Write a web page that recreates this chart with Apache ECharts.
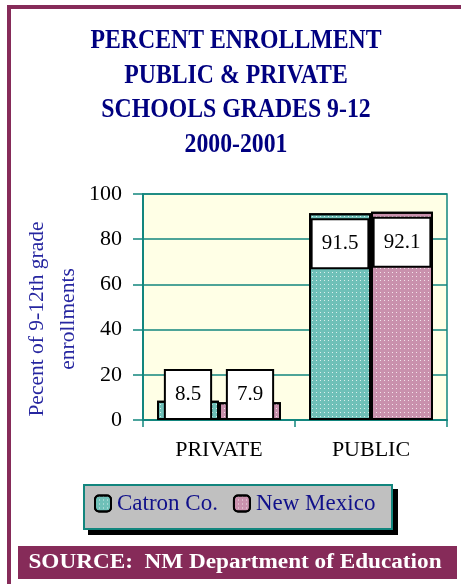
<!DOCTYPE html>
<html>
<head>
<meta charset="utf-8">
<script src="https://cdn.jsdelivr.net/npm/echarts@6/dist/echarts.min.js"></script>
<style>
html,body{margin:0;padding:0;background:#fff;}
#c{width:461px;height:584px;}
</style>
</head>
<body>
<div id="c"></div>
<script>
const categories = ['PRIVATE', 'PUBLIC'];
const catronValues = [8.5, 91.5];
const newMexicoValues = [7.9, 92.1];
const seriesNames = ['Catron Co.', 'New Mexico'];
const yTicks = { min: 0, max: 100, interval: 20 };
const titleLines = ['PERCENT ENROLLMENT', 'PUBLIC & PRIVATE', 'SCHOOLS GRADES 9-12', '2000-2001'];
const yAxisTitle = ['Pecent of 9-12th grade', 'enrollments'];
const sourceText = 'SOURCE:  NM Department of Education';

const SERIF = '"Liberation Serif", "Times New Roman", serif';
const TEAL = '#12867e';
const purple = '#862b59';

const chart = echarts.init(document.getElementById('c'), null, { renderer: 'canvas' });

const decal = {
  symbol: 'rect',
  symbolSize: 1,
  color: 'rgba(255,255,255,0.75)',
  dashArrayX: [1, 3],
  dashArrayY: [1, 3],
  rotation: 0
};

function labelFor(values) {
  return values.map(v => ({
    value: v,
    label: {
      position: v < 50 ? 'insideBottom' : 'insideTop',
      distance: v < 50 ? 2 : 7
    }
  }));
}

const labelStyle = {
  show: true,
  color: '#000',
  fontFamily: SERIF,
  fontSize: 21,
  lineHeight: 21,
  backgroundColor: '#fff',
  borderColor: '#000',
  borderWidth: 2,
  padding: [13, 9, 13, 9],
  formatter: p => p.value.toFixed(1)
};

chart.setOption({
  animation: false,
  backgroundColor: '#fff',
  aria: { enabled: false },
  grid: {
    left: 143, top: 194, width: 304, height: 226,
    show: true, backgroundColor: '#ffffe6',
    borderColor: TEAL, borderWidth: 1.5
  },
  legend: {
    data: seriesNames,
    left: 94, top: 492,
    padding: 0,
    itemWidth: 16, itemHeight: 16, itemGap: 15,
    textStyle: { fontFamily: SERIF, fontSize: 23, color: '#10108a', padding: [0, 0, 0, 1] },
    itemStyle: { borderColor: '#000', borderWidth: 2 },
    selectedMode: false
  },
  xAxis: {
    type: 'category',
    data: categories,
    axisLine: { lineStyle: { color: TEAL, width: 2 } },
    axisTick: { show: true, length: 7, lineStyle: { color: TEAL, width: 1.5 } },
    axisLabel: { color: '#000', fontFamily: SERIF, fontSize: 22, margin: 19 },
    splitLine: { show: false }
  },
  yAxis: {
    type: 'value',
    min: yTicks.min, max: yTicks.max, interval: yTicks.interval,
    axisLine: { show: true, lineStyle: { color: TEAL, width: 2 } },
    axisTick: { show: true, length: 10, lineStyle: { color: TEAL, width: 1.5 } },
    axisLabel: { color: '#000', fontFamily: SERIF, fontSize: 22, margin: 21 },
    splitLine: { show: true, lineStyle: { color: TEAL, width: 1.5 } }
  },
  series: [
    {
      name: seriesNames[0], type: 'bar', data: labelFor(catronValues),
      barWidth: 62, barGap: '0%',
      itemStyle: { color: '#6fc0b8', borderColor: '#000', borderWidth: 2, decal: decal },
      label: labelStyle
    },
    {
      name: seriesNames[1], type: 'bar', data: labelFor(newMexicoValues),
      barWidth: 62, barGap: '0%',
      itemStyle: { color: '#c991ad', borderColor: '#000', borderWidth: 2, decal: decal },
      label: labelStyle
    }
  ],
  graphic: [
    { type: 'rect', shape: { x: 7, y: 5, width: 461, height: 4 }, style: { fill: purple }, z: 10 },
    { type: 'rect', shape: { x: 7, y: 5, width: 4, height: 584 }, style: { fill: purple }, z: 10 },
    { type: 'rect', shape: { x: 88, y: 489, width: 310, height: 46 }, style: { fill: '#000' }, z: -20, silent: true },
    { type: 'rect', shape: { x: 84, y: 485, width: 308, height: 44 }, style: { fill: '#c0c0c0', stroke: TEAL, lineWidth: 2 }, z: -15, silent: true },
    {
      type: 'text', x: 236, y: 24, scaleX: 0.88,
      style: {
        text: titleLines.join('\n'), fill: '#000080',
        font: 'bold 27px ' + SERIF, lineHeight: 34.5,
        textAlign: 'center', textVerticalAlign: 'top'
      }
    },
    {
      type: 'text', x: 53, y: 319, rotation: Math.PI / 2,
      style: {
        text: yAxisTitle.join('\n'), fill: '#2626a0',
        font: '21.5px ' + SERIF, lineHeight: 31,
        textAlign: 'center', textVerticalAlign: 'middle'
      }
    },
    { type: 'rect', shape: { x: 18, y: 546, width: 439, height: 33 }, style: { fill: purple } },
    {
      type: 'text', x: 235, y: 563, scaleX: 1.16,
      style: {
        text: sourceText, fill: '#fff',
        font: 'bold 20px ' + SERIF,
        textAlign: 'center', textVerticalAlign: 'middle'
      }
    }
  ]
});
</script>
</body>
</html>
